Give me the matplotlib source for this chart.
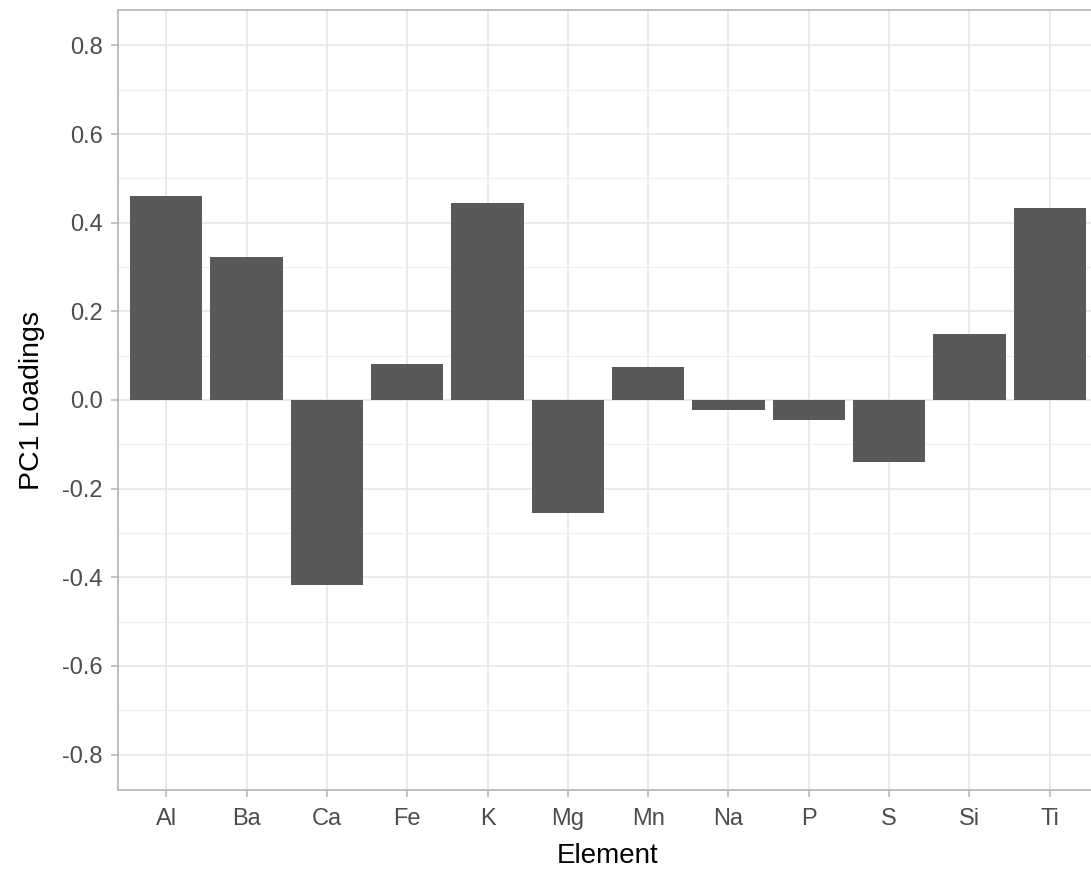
import numpy as np
import matplotlib.pyplot as plt

# PC1 loadings per element
elements = ["Al", "Ba", "Ca", "Fe", "K", "Mg", "Mn", "Na", "P", "S", "Si", "Ti"]
loadings = [0.460, 0.322, -0.417, 0.081, 0.444, -0.255, 0.074, -0.023, -0.045, -0.140, 0.149, 0.433]

yticks = [-0.8, -0.6, -0.4, -0.2, 0.0, 0.2, 0.4, 0.6, 0.8]

plt.rcParams['font.family'] = ['Liberation Sans', 'DejaVu Sans']

fig = plt.figure(figsize=(10.91, 8.69), dpi=100)
# panel runs a bit past the right edge, as in the reference
ax = fig.add_axes([118 / 1091, 1 - 790 / 869, 980 / 1091, 780 / 869])

x = np.arange(1, len(elements) + 1)
ax.bar(x, loadings, width=0.9, color="#595959", zorder=3)

ax.set_xlim(0.4, 12.6)
ax.set_ylim(-0.88, 0.88)
ax.set_xticks(x)
ax.set_xticklabels(elements)
ax.set_yticks(yticks)
ax.set_yticklabels([f"{v:.1f}" for v in yticks])
ax.set_yticks(np.arange(-0.7, 0.71, 0.2), minor=True)

ax.grid(which="major", color="#E3E3E3", linewidth=1.1, zorder=0)
ax.grid(which="minor", axis="y", color="#EFEFEF", linewidth=0.8, zorder=0)
ax.set_axisbelow(True)

for s in ax.spines.values():
    s.set_color("#B3B3B3")
    s.set_linewidth(1.2)

ax.tick_params(axis="both", which="major", colors="#B3B3B3", length=5, width=1.1,
               labelcolor="#4D4D4D", labelsize=17)
ax.tick_params(axis="x", pad=8)
ax.tick_params(axis="y", pad=6)
ax.tick_params(which="minor", length=0)

ax.set_xlabel("Element", fontsize=20, color="black", labelpad=9)
ax.set_ylabel("PC1 Loadings", fontsize=20.5, color="black", labelpad=12)

fig.savefig("out.png", dpi=100)
